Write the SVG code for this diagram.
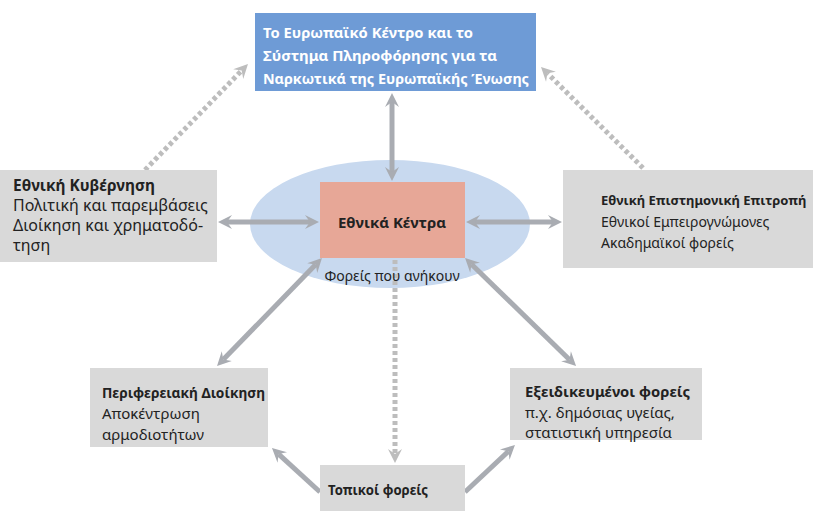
<svg xmlns="http://www.w3.org/2000/svg" width="816" height="513" viewBox="0 0 816 513">
<style>
  .t{font-family:"Noto Sans","DejaVu Sans",sans-serif;font-size:15px;fill:#222}
  .b{font-weight:bold}
  .w{fill:#fff;font-weight:bold}
  .l{font-size:16px}
  .s{font-size:14px}
  .gbox{fill:#d9d9d9}
  .sol{stroke:#a9acb2;stroke-width:5;fill:none;marker-end:url(#ah);}
  .dbl{marker-start:url(#ah)}
  .dot{stroke:#bdbdbd;stroke-width:5;fill:none;stroke-dasharray:4 3;marker-end:url(#ahd)}
</style>
<defs>
  <marker id="ah" viewBox="0 0 16 16" refX="6" refY="8" markerWidth="16" markerHeight="16" markerUnits="userSpaceOnUse" orient="auto-start-reverse">
    <path d="M1,1 L15,8 L1,15 L6,8 Z" fill="#a9acb2"/>
  </marker>
  <marker id="ahd" viewBox="0 0 16 16" refX="6" refY="8" markerWidth="16" markerHeight="16" markerUnits="userSpaceOnUse" orient="auto">
    <path d="M1,1 L15,8 L1,15 L6,8 Z" fill="#bdbdbd"/>
  </marker>
</defs>
<rect width="816" height="513" fill="#fff"/>

<g id="ellipse-bg">
  <ellipse cx="390" cy="224" rx="140" ry="64" fill="#c8d9ef"/>
</g>

<g id="connectors">
  <line class="dot" x1="145" y1="170" x2="241.7" y2="70.5"/>
  <line class="dot" x1="643" y1="168" x2="547.4" y2="73.3"/>
  <line class="dot" x1="395" y1="260" x2="395" y2="454"/>
  <line class="sol dbl" x1="392" y1="102" x2="392" y2="172"/>
  <line class="sol dbl" x1="227" y1="222" x2="310" y2="222"/>
  <line class="sol dbl" x1="553" y1="222" x2="475" y2="222"/>
  <line class="sol dbl" x1="315.7" y1="264.5" x2="223.3" y2="359.6"/>
  <line class="sol dbl" x1="471.5" y1="264.3" x2="569.6" y2="359.7"/>
  <line class="sol" x1="320" y1="492" x2="278.6" y2="454.1"/>
  <line class="sol" x1="465" y1="492" x2="508.4" y2="451.2"/>
</g>

<g id="emcdda">
  <rect x="255" y="13" width="281" height="78" fill="#6e9bd6"/>
  <text class="t w" x="263" y="38" textLength="210" lengthAdjust="spacingAndGlyphs">Το Ευρωπαϊκό Κέντρο και το</text>
  <text class="t w" x="263" y="61" textLength="234" lengthAdjust="spacingAndGlyphs">Σύστημα Πληροφόρησης για τα</text>
  <text class="t w" x="263" y="84" textLength="266" lengthAdjust="spacingAndGlyphs">Ναρκωτικά της Ευρωπαϊκής Ένωσης</text>
</g>

<g id="national-centres">
  <rect x="320" y="182" width="145" height="76" fill="#e7a797"/>
  <text class="t b" x="338" y="228" textLength="108" lengthAdjust="spacingAndGlyphs">Εθνικά Κέντρα</text>
  <text class="t s" x="392" y="281" text-anchor="middle">Φορείς που ανήκουν</text>
</g>

<g id="government">
  <rect class="gbox" x="0" y="170" width="217" height="92"/>
  <text class="t b l" x="13" y="191" textLength="142" lengthAdjust="spacingAndGlyphs">Εθνική Κυβέρνηση</text>
  <text class="t l" x="13" y="211">Πολιτική και παρεμβάσεις</text>
  <text class="t l" x="13" y="231">Διοίκηση και χρηματοδό-</text>
  <text class="t l" x="13" y="251">τηση</text>
</g>

<g id="scientific-committee">
  <rect class="gbox" x="563" y="170" width="250" height="98"/>
  <text class="t b" x="601" y="205" style="font-size:13px">Εθνική Επιστημονική Επιτροπή</text>
  <text class="t s" x="601" y="227">Εθνικοί Εμπειρογνώμονες</text>
  <text class="t s" x="601" y="248">Ακαδημαϊκοί φορείς</text>
</g>

<g id="regional">
  <rect class="gbox" x="90" y="368" width="178" height="79"/>
  <text class="t b" x="102" y="398" textLength="163" lengthAdjust="spacingAndGlyphs">Περιφερειακή Διοίκηση</text>
  <text class="t" x="102" y="419">Αποκέντρωση</text>
  <text class="t" x="102" y="440">αρμοδιοτήτων</text>
</g>

<g id="specialised">
  <rect class="gbox" x="510" y="368" width="192" height="72"/>
  <text class="t b" x="525" y="397" textLength="165" lengthAdjust="spacingAndGlyphs">Εξειδικευμένοι φορείς</text>
  <text class="t" x="525" y="418">π.χ. δημόσιας υγείας,</text>
  <text class="t" x="525" y="438">στατιστική υπηρεσία</text>
</g>

<g id="local">
  <rect class="gbox" x="320" y="465" width="145" height="46"/>
  <text class="t b" x="328" y="495" textLength="100" lengthAdjust="spacingAndGlyphs">Τοπικοί φορείς</text>
</g>
</svg>
